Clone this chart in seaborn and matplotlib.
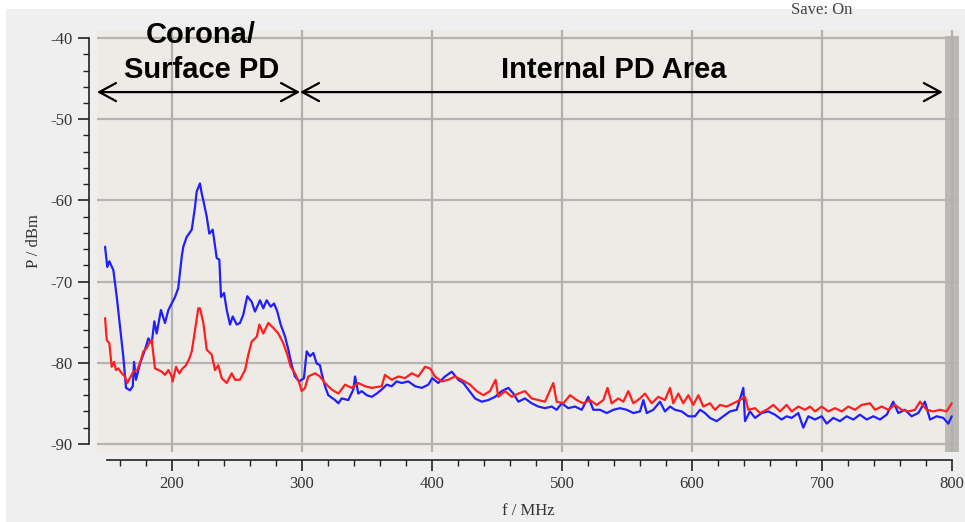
import matplotlib
matplotlib.use("Agg")
import matplotlib.pyplot as plt
import matplotlib.patches as mpatches
from matplotlib.ticker import MultipleLocator
import pandas as pd
import seaborn as sns

# blue trace
freq_blue = [148.5, 150.2, 151.8, 154.9, 157.5, 160.0, 162.5, 164.6, 167.7, 169.8,
             170.8, 172.3, 175.4, 179.2, 181.8, 184.4, 186.4, 188.2, 191.5, 194.6,
             197.2, 202.3, 204.8, 207.5, 208.7, 211.3, 215.2, 217.7, 219.0, 221.5,
             222.8, 224.1, 226.7, 228.7, 231.3, 234.4, 236.4, 237.7, 240.0, 242.1,
             244.6, 246.7, 249.8, 252.3, 254.8, 257.9, 261.3, 263.8, 267.7, 270.2,
             272.8, 275.9, 278.5, 281.0, 283.6, 287.0, 289.5, 292.1, 294.6, 297.9,
             301.5, 303.6, 306.2, 308.7, 311.3, 313.8, 315.1, 317.7, 320.2, 325.4,
             328.0, 330.5, 335.6, 339.5, 340.8, 343.3, 345.9, 349.8, 353.6, 357.5,
             361.3, 365.2, 369.0, 372.8, 376.7, 381.8, 387.0, 392.1, 397.2, 400.2,
             404.8, 410.0, 415.2, 420.2, 424.1, 427.9, 433.1, 438.2, 443.3, 448.5,
             453.6, 458.7, 462.6, 466.4, 471.5, 476.7, 481.8, 486.9, 492.1, 495.9,
             499.8, 504.8, 510.0, 515.2, 520.2, 524.1, 529.2, 534.4, 539.5, 544.6,
             549.8, 554.9, 560.0, 562.6, 565.2, 570.2, 575.4, 579.2, 583.1, 586.9,
             592.1, 597.2, 602.3, 606.2, 610.0, 613.8, 619.0, 624.1, 629.2, 634.4,
             639.5, 640.8, 644.6, 648.5, 653.6, 658.7, 663.8, 668.9, 672.8, 676.7,
             681.8, 685.6, 689.5, 694.6, 699.8, 703.6, 708.7, 713.8, 718.9, 724.1,
             729.2, 734.4, 739.5, 744.6, 749.8, 754.8, 758.7, 763.8, 768.9, 774.1,
             779.2, 783.1, 788.2, 793.3, 797.2, 799.8]
p_blue = [-65.7, -68.2, -67.5, -68.6, -71.9, -75.6, -79.2, -83.1, -83.4, -82.9,
          -79.9, -82.1, -80.1, -78.4, -77.0, -77.6, -74.9, -76.4, -73.5, -75.1,
          -73.5, -71.9, -70.8, -66.9, -65.7, -64.5, -63.6, -60.8, -58.9, -57.9,
          -59.1, -60.0, -62.0, -64.1, -63.6, -67.1, -67.3, -71.9, -71.4, -73.5,
          -75.3, -74.3, -75.3, -75.1, -74.1, -71.8, -72.5, -73.7, -72.3, -73.3,
          -72.3, -73.1, -72.7, -73.7, -75.3, -76.8, -78.4, -80.3, -81.7, -82.3,
          -81.9, -78.6, -79.2, -78.8, -80.1, -80.3, -81.3, -82.9, -84.0, -84.6,
          -85.0, -84.4, -84.6, -83.3, -81.7, -83.8, -83.5, -84.0, -84.2, -83.8,
          -83.3, -82.7, -82.9, -82.3, -82.5, -82.3, -82.9, -83.1, -82.7, -81.9,
          -82.5, -81.7, -81.1, -82.1, -82.5, -83.3, -84.4, -84.8, -84.6, -84.2,
          -83.5, -83.1, -83.8, -84.8, -84.4, -85.0, -85.4, -85.6, -85.4, -85.8,
          -85.0, -85.6, -85.4, -85.8, -84.2, -85.8, -85.8, -86.2, -85.8, -85.6,
          -85.8, -86.2, -86.0, -84.6, -86.2, -85.8, -84.8, -86.0, -85.4, -85.8,
          -86.0, -86.6, -86.6, -85.8, -86.2, -86.8, -87.2, -86.6, -86.0, -85.8,
          -83.1, -87.2, -86.0, -86.8, -86.2, -86.0, -86.4, -87.0, -86.6, -86.8,
          -86.2, -88.0, -86.6, -87.0, -86.6, -87.5, -86.8, -87.2, -86.6, -87.0,
          -86.4, -87.0, -86.6, -87.0, -86.4, -84.8, -86.2, -85.8, -86.6, -86.2,
          -84.8, -87.0, -86.6, -86.8, -87.5, -86.6]

# red trace
freq_red = [148.5, 149.8, 151.8, 153.6, 155.4, 156.9, 158.7, 161.3, 163.8, 165.6,
            168.2, 170.3, 173.3, 176.0, 178.0, 180.5, 183.1, 184.4, 186.9, 189.5,
            192.1, 194.6, 197.2, 199.8, 200.5, 203.1, 205.6, 208.2, 210.8, 213.3,
            215.2, 217.7, 220.2, 221.5, 224.1, 226.7, 230.5, 233.1, 235.6, 238.2,
            242.1, 245.9, 248.5, 252.3, 256.2, 258.7, 261.3, 265.2, 267.2, 270.2,
            274.1, 277.9, 281.8, 285.6, 288.7, 291.3, 294.6, 297.9, 299.8, 302.3,
            304.8, 310.0, 313.8, 317.7, 322.8, 328.0, 333.1, 338.2, 343.3, 348.5,
            353.6, 361.3, 363.8, 369.0, 374.1, 379.2, 384.4, 389.5, 394.6, 398.5,
            402.3, 407.5, 412.5, 417.7, 422.8, 429.2, 434.4, 439.5, 444.6, 448.9,
            451.0, 456.2, 461.3, 466.4, 471.5, 476.7, 481.8, 486.9, 493.3, 495.9,
            501.0, 506.2, 511.3, 516.4, 521.5, 526.7, 531.8, 535.0, 538.2, 543.3,
            547.2, 551.0, 554.9, 560.0, 563.8, 569.0, 574.1, 579.2, 583.1, 585.6,
            589.5, 593.3, 597.2, 601.0, 604.9, 608.7, 613.8, 617.7, 621.5, 626.7,
            631.8, 636.9, 640.8, 643.3, 648.5, 652.3, 657.4, 662.6, 667.7, 672.8,
            676.7, 681.8, 686.9, 690.8, 694.6, 699.8, 704.8, 710.0, 715.2, 720.2,
            725.4, 730.5, 736.9, 740.8, 745.9, 751.0, 756.2, 761.3, 766.4, 771.5,
            775.4, 780.5, 785.6, 790.8, 795.9, 799.8]
p_red = [-74.5, -77.2, -77.6, -80.5, -79.9, -80.9, -80.7, -81.3, -81.7, -82.5,
         -81.7, -81.1, -80.9, -79.7, -78.6, -78.2, -77.4, -77.2, -80.7, -80.9,
         -81.1, -81.5, -80.9, -81.7, -82.3, -80.5, -81.3, -80.7, -80.3, -79.5,
         -78.6, -76.0, -73.3, -73.3, -75.1, -78.4, -79.0, -80.9, -80.3, -81.9,
         -82.5, -81.3, -82.1, -82.1, -80.9, -79.0, -77.4, -76.8, -75.3, -76.4,
         -75.1, -75.7, -76.4, -77.6, -79.0, -80.5, -81.3, -82.5, -83.5, -83.1,
         -81.7, -81.3, -81.7, -82.5, -83.3, -83.8, -82.7, -83.1, -82.5, -82.9,
         -83.1, -82.9, -81.5, -82.1, -81.7, -81.9, -81.3, -81.7, -80.5, -80.7,
         -81.7, -82.3, -82.1, -81.7, -82.1, -82.7, -83.5, -84.0, -83.5, -82.1,
         -84.2, -83.5, -84.2, -83.8, -83.5, -84.4, -84.6, -84.8, -82.5, -84.8,
         -85.0, -84.0, -84.6, -85.0, -84.6, -85.2, -84.6, -83.1, -85.0, -84.4,
         -84.8, -83.5, -85.0, -84.4, -83.8, -85.0, -84.2, -84.6, -83.1, -85.0,
         -83.8, -85.0, -84.0, -85.2, -84.0, -85.4, -85.0, -85.8, -85.2, -85.4,
         -85.0, -84.6, -84.2, -85.8, -85.6, -86.2, -85.8, -85.2, -86.0, -85.2,
         -86.0, -85.4, -85.8, -85.4, -86.0, -85.4, -86.0, -85.6, -86.0, -85.4,
         -85.8, -85.2, -85.0, -85.8, -85.4, -85.8, -85.2, -85.8, -86.0, -85.8,
         -84.8, -85.8, -86.0, -85.8, -86.0, -85.0]

x_ticks = [200, 300, 400, 500, 600, 700, 800]
y_ticks = [-90, -80, -70, -60, -50, -40]

df_blue = pd.DataFrame({"f": freq_blue, "P": p_blue})
df_red = pd.DataFrame({"f": freq_red, "P": p_red})

sns.set_style("white")
plt.rcParams["axes.unicode_minus"] = False

fig = plt.figure(figsize=(9.65, 5.22), dpi=100, facecolor="#efefef")
# white strips of the screenshot border
fig.patches.append(mpatches.Rectangle((0, 1 - 9 / 522), 1, 9 / 522, transform=fig.transFigure,
                                      facecolor="white", edgecolor="none", zorder=0))
fig.patches.append(mpatches.Rectangle((0, 0), 6 / 965, 1, transform=fig.transFigure,
                                      facecolor="white", edgecolor="none", zorder=0))

ax = fig.add_axes([97 / 965, 1 - 452 / 522, 862 / 965, 422 / 522])
ax.set_facecolor("#eeebe6")

ax.axvspan(794.6, 805.4, ymax=(-39.8 + 91.0) / 52.0, color="#bcb9b5", lw=0, zorder=1)
for xv in x_ticks:
    ax.axvline(xv, color="#b0b0b0", lw=1.6, zorder=1.5)
for yv in y_ticks:
    ax.axhline(yv, color="#b4b4b4", lw=1.6, zorder=1)

sns.lineplot(data=df_blue, x="f", y="P", color="#1f1fff", lw=1.6, sort=False,
             estimator=None, ax=ax, zorder=3)
sns.lineplot(data=df_red, x="f", y="P", color="#ff1f1f", lw=1.6, sort=False,
             estimator=None, ax=ax, zorder=3)

ax.set_xlim(142.3, 805.4)
ax.set_ylim(-91.0, -39.0)

for s in ["top", "right"]:
    ax.spines[s].set_visible(False)
ax.spines["left"].set_position(("outward", 6))
ax.spines["bottom"].set_position(("outward", 6))
ax.spines["left"].set_bounds(-90, -40)
ax.spines["bottom"].set_bounds(150, 800)
for s in ["left", "bottom"]:
    ax.spines[s].set_color("#222222")
    ax.spines[s].set_linewidth(1.2)

ax.set_xticks(x_ticks)
ax.set_yticks(y_ticks)
ax.xaxis.set_minor_locator(MultipleLocator(20))
ax.yaxis.set_minor_locator(MultipleLocator(2))
ax.tick_params(which="major", direction="out", length=8, width=1.2, color="#222222",
               labelsize=12, labelcolor="#333333", bottom=True, left=True)
ax.tick_params(which="minor", direction="out", length=4, width=1.0, color="#222222",
               bottom=True, left=True)
for lab in ax.get_xticklabels() + ax.get_yticklabels():
    lab.set_family("Liberation Serif")

ax.set_xlabel("f / MHz", family="Liberation Serif", fontsize=12, color="#333333", labelpad=8)
ax.set_ylabel("P / dBm", family="Liberation Serif", fontsize=12, color="#333333", labelpad=6)

# region annotations
arrow_style = dict(arrowstyle="<->,head_length=1.2,head_width=0.65", lw=1.6, color="black",
                   shrinkA=0, shrinkB=0)
ax.annotate("", xy=(142.3, -46.65), xytext=(298.5, -46.65), arrowprops=arrow_style, zorder=5)
ax.annotate("", xy=(298.5, -46.65), xytext=(793.0, -46.65), arrowprops=arrow_style, zorder=5)
ax.text(222, -39.6, "Corona/", ha="center", va="center", fontsize=21, color="black",
        fontweight="bold", family="Liberation Sans", zorder=6)
ax.text(223, -43.9, "Surface PD", ha="center", va="center", fontsize=21, color="black",
        fontweight="bold", family="Liberation Sans", zorder=6)
ax.text(539.5, -43.9, "Internal PD Area", ha="center", va="center", fontsize=21, color="black",
        fontweight="bold", family="Liberation Sans", zorder=6)

fig.text(822 / 965, 1 - 14 / 522, "Save: On", ha="center", va="baseline",
         family="Liberation Serif", fontsize=12, color="#444444")

fig.savefig("out.png", dpi=100, facecolor=fig.get_facecolor())
